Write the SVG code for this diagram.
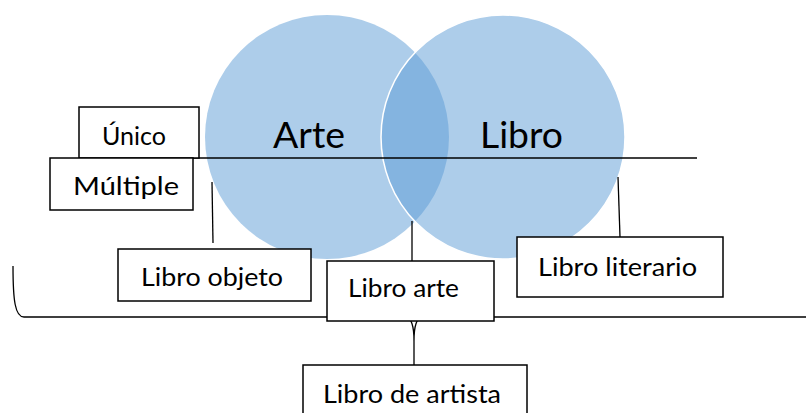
<svg xmlns="http://www.w3.org/2000/svg" width="806" height="413" viewBox="0 0 806 413">
<style>
.box{fill:#fff;stroke:#000;stroke-width:1.5}
.lbl{font-family:Lato,"Liberation Sans",sans-serif;font-size:25.5px;fill:#000}
.big{font-family:Lato,"Liberation Sans",sans-serif;font-size:36px;fill:#000}
.ln{fill:none;stroke:#000;stroke-width:1.3}
.circ{fill:#5b9bd5;fill-opacity:0.5}
</style>
<rect width="806" height="413" fill="#fff"/>
<g id="arte">
<circle class="circ" cx="327" cy="137" r="122"/>
</g>
<g id="libro">
<circle class="circ" cx="503" cy="137" r="122" stroke="#fff" stroke-width="1.5"/>
</g>
<g id="labels-big">
<text class="big" x="273" y="148" textLength="72" lengthAdjust="spacingAndGlyphs">Arte</text>
<text class="big" x="480" y="148" textLength="83" lengthAdjust="spacingAndGlyphs">Libro</text>
</g>
<g id="connectors">
<line class="ln" x1="193" y1="158" x2="697" y2="158"/>
<line class="ln" x1="212" y1="182" x2="213" y2="243"/>
<line class="ln" x1="412" y1="221" x2="412" y2="261"/>
<line class="ln" x1="618" y1="177" x2="620" y2="237"/>
<path class="ln" d="M13,266 C13,300 15,317 24,317 L806,317"/>
<path class="ln" d="M406,317 C412,318 414,328 414,341 M422,317 C416,318 414,328 414,341 L414,365"/>
</g>
<g id="unico">
<rect class="box" x="79" y="107" width="120" height="51"/>
<text class="lbl" x="102" y="145" textLength="64" lengthAdjust="spacingAndGlyphs">Único</text>
</g>
<g id="multiple">
<rect class="box" x="50" y="158" width="143" height="52"/>
<text class="lbl" x="73" y="195" textLength="106" lengthAdjust="spacingAndGlyphs">Múltiple</text>
</g>
<g id="libro-objeto">
<rect class="box" x="118" y="249" width="193" height="52"/>
<text class="lbl" x="141" y="286" textLength="142" lengthAdjust="spacingAndGlyphs">Libro objeto</text>
</g>
<g id="libro-arte">
<rect class="box" x="327" y="261" width="167" height="60"/>
<text class="lbl" x="348" y="297" textLength="111" lengthAdjust="spacingAndGlyphs">Libro arte</text>
</g>
<g id="libro-literario">
<rect class="box" x="517" y="237" width="206" height="60"/>
<text class="lbl" x="538" y="276" textLength="159" lengthAdjust="spacingAndGlyphs">Libro literario</text>
</g>
<g id="libro-de-artista">
<rect class="box" x="303" y="365" width="224" height="60"/>
<text class="lbl" x="323" y="403" textLength="178" lengthAdjust="spacingAndGlyphs">Libro de artista</text>
</g>
</svg>
